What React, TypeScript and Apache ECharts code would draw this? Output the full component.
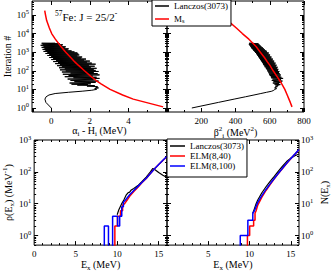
import React, { useEffect, useRef } from 'react';
import * as echarts from 'echarts';

const FONT = "'Liberation Serif', 'DejaVu Serif', serif";

// ---------- top panels: Lanczos iterations ----------
const iterations = [
  1, 2, 3, 4, 5, 6, 7, 8, 9, 10, 11, 12, 13, 14, 15, 16, 17, 18, 19, 20,
  22, 24, 26, 28, 30,
  33, 36, 39, 42, 45, 48,
  52, 56, 60, 65, 70, 75, 80, 86, 92, 98,
  105, 112, 120, 128, 136, 145, 155, 165, 176, 188,
  200, 213, 227, 242, 258, 275, 293, 312, 332, 354,
  377, 401, 427, 455, 485, 516, 550, 586, 624, 665,
  708, 754, 803, 855, 911, 970, 1033, 1100, 1172, 1248,
  1329, 1416, 1508, 1606, 1710, 1821, 1940, 2066, 2200, 2343,
  2496, 2658, 2831, 3015, 3073,
];
const lanczosAlpha = [
  0.0, -0.28, -0.33, -0.27, -0.12, 0.2, 0.9, 1.6, 2.1, 2.35, 2.25, 2.45, 2.3, 2.4, 1.85, 2.25, 1.35, 1.9, 1.05, 2.05,
  0.95, 2.3, 1.2, 2.45, 1.0,
  2.2, 0.85, 2.5, 1.15, 2.35, 0.7,
  2.15, 0.9, 2.5, 0.6, 2.4, 1.0, 2.2, 0.55, 2.45, 0.75,
  2.3, 0.45, 2.2, 0.7, 2.35, 0.4, 2.05, 0.55, 2.25, 0.3,
  1.95, 0.45, 2.3, 0.2, 2.1, 0.35, 1.85, 0.1, 2.0, 0.25,
  1.7, 0.0, 1.8, 0.1, 1.55, -0.1, 1.6, 0.0, 1.35, -0.2,
  1.45, -0.1, 1.4, -0.3, 1.35, -0.2, 1.2, -0.4, 1.05, -0.3,
  0.85, -0.45, 0.9, -0.35, 0.7, -0.5, 0.75, -0.4, 0.55, -0.55,
  0.6, -0.45, 0.45, -0.5, 0.2,
];
const lanczosBeta2 = [
  145, 300, 392, 458, 508, 548, 582, 612, 624, 630, 640, 628, 636, 645, 632, 650, 640, 662, 628, 655,
  618, 668, 622, 674, 612,
  666, 616, 678, 608, 668, 606,
  662, 600, 664, 596, 658, 594, 654, 590, 656, 586,
  648, 584, 650, 578, 642, 576, 646, 570, 636, 568,
  640, 562, 630, 560, 634, 556, 624, 552, 626, 548,
  616, 544, 618, 540, 608, 536, 610, 532, 600, 528,
  602, 524, 592, 520, 594, 514, 584, 510, 580, 504,
  572, 500, 566, 494, 560, 490, 552, 486, 546, 482,
  540, 478, 534, 480, 505,
];
const msIterations = [1.15, 2, 3, 5, 10, 20, 30, 50, 100, 200, 300, 500, 1000, 2000, 5000, 1e4, 2e4, 5e4, 1e5, 1.7e5];
const msAlpha = [5.8, 4.9, 4.25, 3.7, 3.05, 2.58, 2.33, 2.05, 1.72, 1.4, 1.22, 1.02, 0.75, 0.5, 0.21, 0.02, -0.1, -0.24, -0.3, -0.34];
const msBeta2 = [730, 720, 712, 702, 688, 670, 658, 642, 620, 600, 586, 570, 545, 520, 478, 440, 405, 355, 318, 290];

// ---------- bottom panels: level density and cumulative number ----------
const rhoLanczosE = [10.0, 10.2, 10.5, 10.8, 11.1, 11.3, 11.5, 11.7, 12.0, 12.5, 13.0, 13.5, 14.0, 14.3, 14.6, 15.0, 15.5, 16.0];
const rhoLanczos = [4.5, 6.5, 9.5, 13, 19, 22, 23, 27, 30, 37, 50, 68, 100, 128, 115, 95, 78, 66];
const rhoElm40E = [9.72, 9.72, 10.03, 10.03, 10.4, 10.4, 10.65, 10.65, 10.9, 11.2, 11.5, 12.0, 12.5, 13.0, 13.5, 14.0, 14.5, 15.0, 15.5, 16.0];
const rhoElm40 = [0, 2, 2, 4, 4, 6, 6, 9, 10, 13, 17, 24, 33, 46, 62, 88, 125, 170, 228, 305];
const rhoElm100E = [8.45, 8.45, 8.95, 8.95, 9.45, 9.45, 10.05, 10.05, 10.3, 10.3, 10.55, 10.55, 10.75, 10.75, 11.0, 11.5, 12.0, 12.5, 13.0, 13.5, 14.0, 14.5, 15.0, 15.5, 16.0];
const rhoElm100 = [0, 2, 2, 0, 0, 4, 4, 2, 2, 4, 4, 8, 8, 11, 13, 19, 26, 35, 47, 63, 88, 125, 170, 230, 310];

const nLanczosE = [10.4, 10.6, 10.8, 11.0, 11.5, 12.0, 12.5, 13.0, 13.5, 14.0, 14.5, 15.0, 15.5, 16.0];
const nLanczos = [5, 7, 10, 13, 22, 34, 50, 72, 105, 150, 210, 270, 320, 365];
const nElm40E = [9.75, 9.75, 10.02, 10.02, 10.5, 10.5, 10.67, 10.67, 10.8, 11.0, 11.5, 12.0, 12.5, 13.0, 13.5, 14.0, 14.5, 15.0, 15.5, 16.0];
const nElm40 = [0, 1, 1, 2, 2, 3, 3, 5, 6, 9, 16, 26, 40, 60, 88, 128, 182, 258, 358, 498];
const nElm100E = [8.88, 8.88, 9.8, 9.8, 10.4, 10.4, 10.6, 11.0, 11.5, 12.0, 12.5, 13.0, 13.5, 14.0, 14.5, 15.0, 15.5, 16.0];
const nElm100 = [0, 1, 1, 3, 3, 5, 6, 11, 18, 28, 42, 62, 90, 130, 185, 260, 360, 500];

// ---------- tick labels ----------
const alphaTicks = [0, 2, 4];
const alphaMinor = [-1, 1, 3, 5, 6];
const betaTicks = [200, 400, 600, 800];
const betaMinor = [100, 300, 500, 700];
const exLeftTicks = [0, 5, 10, 15];
const exRightTicks = [5, 10, 15];
const exMinor = [1, 2, 3, 4, 6, 7, 8, 9, 11, 12, 13, 14];
const topDecades = [0, 1, 2, 3, 4, 5];
const bottomDecades = [0, 1, 2, 3];

const TOP_LOG_MIN = -0.215;
const TOP_LOG_MAX = 5.75;
const BOT_LOG_MIN = Math.log10(0.5);
const BOT_LOG_MAX = 3;

const lg = (v: number) => (v > 0 ? Math.log10(v) : -3);

function logMinors(lo: number, hi: number) {
  const out: number[] = [];
  for (let d = Math.floor(lo); d < hi; d++) {
    for (let k = 2; k <= 9; k++) {
      const v = d + Math.log10(k);
      if (v > lo && v < hi) out.push(v);
    }
  }
  return out;
}

const tickRich = {
  b: { fontFamily: FONT, fontSize: 9, color: '#000', lineHeight: 13 },
  s: { fontFamily: FONT, fontSize: 6.5, color: '#000', verticalAlign: 'top', lineHeight: 8 },
};
const nameRich = {
  m: { fontFamily: FONT, fontSize: 10, color: '#000', lineHeight: 14 },
  sub: { fontFamily: FONT, fontSize: 7, color: '#000', verticalAlign: 'bottom', lineHeight: 8 },
  sup: { fontFamily: FONT, fontSize: 7, color: '#000', verticalAlign: 'top', lineHeight: 8 },
};

type Side = 'left' | 'right' | 'top' | 'bottom';

function axisSet(
  grid: number,
  dim: 'x' | 'y',
  min: number,
  max: number,
  majors: number[],
  minors: number[],
  mainSide: Side,
  mirrorSide: Side,
  label: null | { values: number[]; formatter: (v: number) => string; margin: number },
  name: null | { text: string; gap: number },
) {
  const base = (side: Side, ticks: number[], len: number): any => ({
    type: 'value',
    gridIndex: grid,
    min,
    max,
    position: side,
    axisLine: { show: false, onZero: false },
    splitLine: { show: false },
    axisTick: { show: true, inside: true, length: len, customValues: ticks, lineStyle: { color: '#000', width: 1 } },
    axisLabel: { show: false },
  });
  const main = base(mainSide, majors, 4);
  if (label) {
    main.axisLabel = {
      show: true,
      customValues: label.values,
      formatter: label.formatter,
      margin: label.margin,
      color: '#000',
      fontFamily: FONT,
      fontSize: 9,
      rich: tickRich,
    };
  }
  if (name) {
    main.name = name.text;
    main.nameLocation = 'middle';
    main.nameGap = name.gap;
    if (dim === 'y') main.nameRotate = 90;
    main.nameTextStyle = { fontFamily: FONT, fontSize: 10, color: '#000', rich: nameRich };
  }
  return [main, base(mainSide, minors, 2), base(mirrorSide, majors, 4), base(mirrorSide, minors, 2)];
}

const plainFmt = (v: number) => `{b|${v}}`;
const powFmt = (v: number) => `{b|10}{s|${Math.round(v)}}`;

function lineSeries(name: string, grid: number, pts: number[][], color: string, width: number) {
  return {
    type: 'line',
    name,
    xAxisIndex: grid * 4,
    yAxisIndex: grid * 4,
    data: pts,
    showSymbol: false,
    symbol: 'none',
    color,
    lineStyle: { color, width },
    clip: true,
    animation: false,
  };
}

export default function App() {
  const ref = useRef<HTMLDivElement>(null);
  useEffect(() => {
    document.body.style.margin = '0';
    if (!ref.current) return;
    const chart = echarts.init(ref.current, undefined, { renderer: 'svg' });

    const topMinors = logMinors(TOP_LOG_MIN, TOP_LOG_MAX);
    const botMinors = logMinors(BOT_LOG_MIN, BOT_LOG_MAX);

    const xAxis = [
      ...axisSet(0, 'x', -1, 6, alphaTicks, alphaMinor, 'bottom', 'top',
        { values: alphaTicks, formatter: plainFmt, margin: 2 },
        { text: '{m|α}{sub|i}{m| - H}{sub|i}{m| (MeV)}', gap: 9 }),
      ...axisSet(1, 'x', 0, 800, betaTicks, betaMinor, 'bottom', 'top',
        { values: betaTicks, formatter: plainFmt, margin: 2 },
        { text: '{m|β}{sup|2}{sub|i}{m| (MeV}{sup|2}{m|)}', gap: 9 }),
      ...axisSet(2, 'x', 0, 16, exRightTicks, exMinor, 'bottom', 'top',
        { values: exLeftTicks, formatter: plainFmt, margin: 2 },
        { text: '{m|E}{sub|x}{m| (MeV)}', gap: 9 }),
      ...axisSet(3, 'x', 0, 16, exRightTicks, exMinor, 'bottom', 'top',
        { values: exRightTicks, formatter: plainFmt, margin: 2 },
        { text: '{m|E}{sub|x}{m| (MeV)}', gap: 9 }),
    ];
    const yAxis = [
      ...axisSet(0, 'y', TOP_LOG_MIN, TOP_LOG_MAX, topDecades, topMinors, 'left', 'right',
        { values: topDecades, formatter: powFmt, margin: 3 },
        { text: '{m|Iteration #}', gap: 16 }),
      ...axisSet(1, 'y', TOP_LOG_MIN, TOP_LOG_MAX, topDecades, topMinors, 'left', 'right', null, null),
      ...axisSet(2, 'y', BOT_LOG_MIN, BOT_LOG_MAX, bottomDecades, botMinors, 'left', 'right',
        { values: bottomDecades, formatter: powFmt, margin: 3 },
        { text: '{m|ρ(E}{sub|x}{m|) (MeV}{sup|-1}{m|)}', gap: 18 }),
      ...axisSet(3, 'y', BOT_LOG_MIN, BOT_LOG_MAX, bottomDecades, botMinors, 'right', 'left',
        { values: bottomDecades, formatter: powFmt, margin: 2 },
        { text: '{m|N(E}{sub|x}{m|)}', gap: 18 }),
    ];

    const gridStyle = { show: true, borderColor: '#000', borderWidth: 1, backgroundColor: 'transparent', containLabel: false };
    const legendBase = {
      orient: 'vertical',
      backgroundColor: '#fff',
      borderColor: '#000',
      borderWidth: 1,
      borderRadius: 0,
      icon: 'rect',
      itemWidth: 14,
      itemHeight: 1.5,
      selectedMode: false,
      z: 10,
      textStyle: {
        fontFamily: FONT,
        fontSize: 9,
        color: '#000',
        lineHeight: 10,
        rich: {
          n: { fontFamily: FONT, fontSize: 9, color: '#000', lineHeight: 10 },
          s: { fontFamily: FONT, fontSize: 6.5, color: '#000', verticalAlign: 'bottom', lineHeight: 7 },
        },
      },
      formatter: (n: string) => (n === 'M_s' ? '{n|M}{s|s}' : n),
    };

    const option: any = {
      animation: false,
      backgroundColor: '#fff',
      grid: [
        { left: 32, top: 1, width: 135, height: 111, ...gridStyle },
        { left: 167, top: 1, width: 137, height: 111, ...gridStyle },
        { left: 32, top: 140, width: 135, height: 109, ...gridStyle },
        { left: 167, top: 140, width: 137, height: 109, ...gridStyle },
      ],
      xAxis,
      yAxis,
      legend: [
        { ...legendBase, data: ['Lanczos(3073)', 'M_s'], left: 152, top: 0, padding: [1, 3, 2, 3], itemGap: 3 },
        { ...legendBase, data: ['Lanczos(3073)', 'ELM(8,40)', 'ELM(8,100)'], left: 167, top: 139, padding: [2, 3, 6, 3], itemGap: 0, itemWidth: 15 },
      ],
      graphic: [
        {
          type: 'text',
          left: 55,
          top: 9,
          z: 5,
          style: {
            text: '{s|57}{m|Fe: J = 25/2}{s|-}',
            fill: '#000',
            rich: {
              s: { fontFamily: FONT, fontSize: 7.5, fill: '#000', verticalAlign: 'top', lineHeight: 8 },
              m: { fontFamily: FONT, fontSize: 11, fill: '#000', lineHeight: 15 },
            },
          },
        },
      ],
      series: [
        lineSeries('Lanczos(3073)', 0, iterations.map((it, i) => [lanczosAlpha[i], lg(it)]), '#000', 1),
        lineSeries('M_s', 0, msIterations.map((it, i) => [msAlpha[i], lg(it)]), '#ff0000', 1.5),
        lineSeries('Lanczos(3073)', 1, iterations.map((it, i) => [lanczosBeta2[i], lg(it)]), '#000', 1),
        lineSeries('M_s', 1, msIterations.map((it, i) => [msBeta2[i], lg(it)]), '#ff0000', 1.5),
        lineSeries('Lanczos(3073)', 2, rhoLanczosE.map((e, i) => [e, lg(rhoLanczos[i])]), '#000', 1.2),
        lineSeries('ELM(8,40)', 2, rhoElm40E.map((e, i) => [e, lg(rhoElm40[i])]), '#ff0000', 1.5),
        lineSeries('ELM(8,100)', 2, rhoElm100E.map((e, i) => [e, lg(rhoElm100[i])]), '#0000ff', 1.5),
        lineSeries('Lanczos(3073)', 3, nLanczosE.map((e, i) => [e, lg(nLanczos[i])]), '#000', 1.2),
        lineSeries('ELM(8,40)', 3, nElm40E.map((e, i) => [e, lg(nElm40[i])]), '#ff0000', 1.5),
        lineSeries('ELM(8,100)', 3, nElm100E.map((e, i) => [e, lg(nElm100[i])]), '#0000ff', 1.5),
      ],
    };
    chart.setOption(option);
    return () => chart.dispose();
  }, []);
  return <div ref={ref} style={{ position: 'absolute', left: 0, top: 0, width: 332, height: 272 }} />;
}
